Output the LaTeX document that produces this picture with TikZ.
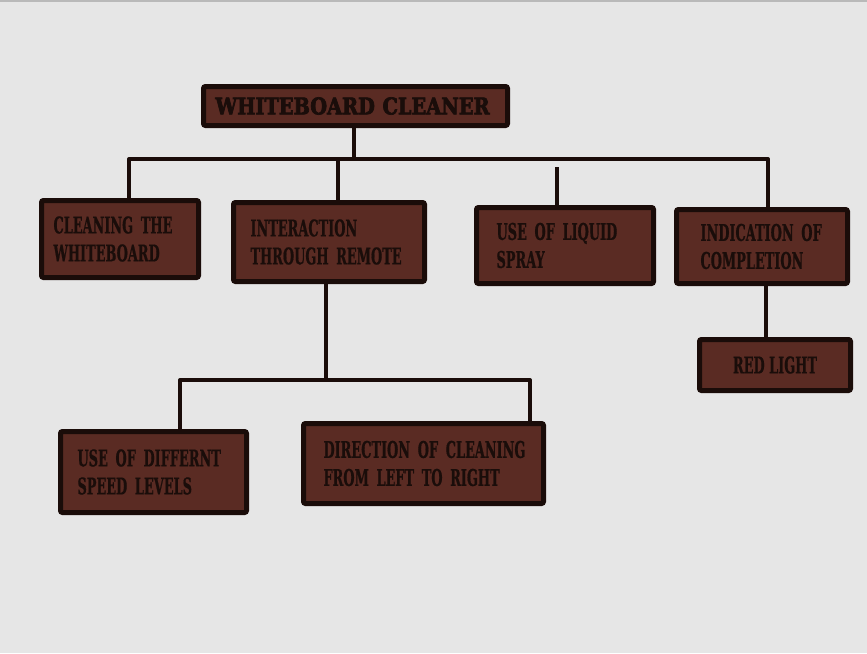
\documentclass[tikz,border=0pt]{standalone}
\usepackage{fontspec}
\newfontfamily\boxfont{DejaVu Serif Bold}[FakeStretch=0.56,FakeBold=0.6]
\newfontfamily\titlefont{DejaVu Serif Bold}[FakeStretch=0.84,FakeBold=3]
\definecolor{bg}{HTML}{E6E6E6}
\definecolor{boxfill}{HTML}{5A2B23}
\definecolor{edge}{HTML}{1A0C09}
\definecolor{ink}{HTML}{1A0D0A}
\tikzset{
  box/.style={draw=edge, line width=5pt, fill=boxfill, rounded corners=2pt,
    anchor=north west, align=left, text=ink, inner ysep=0pt,
    font=\boxfont\fontsize{23}{28}\selectfont},
  link/.style={draw=edge, line width=4pt, line join=round}
}
\begin{document}
\begin{tikzpicture}[x=1pt,y=-1pt]
\useasboundingbox (0,0) rectangle (867,653);
\fill[bg] (0,0) rectangle (867,653);
\fill[gray!55] (0,0) rectangle (867,2);

\node[box, minimum width=304pt, minimum height=39pt, text width=280pt, inner xsep=12pt,
      font=\titlefont\fontsize{23}{26}\selectfont] (title) at (201,84) {\mbox{WHITEBOARD CLEANER}};
\node[box, minimum width=157pt, minimum height=77pt, text width=133pt, inner xsep=12pt] (b1) at (39,198)
  {\mbox{CLEANING THE}\\\mbox{WHITEBOARD}};
\node[box, minimum width=191pt, minimum height=79pt, text width=157pt, inner xsep=17pt] (b2) at (231,200)
  {\mbox{INTERACTION}\\\mbox{THROUGH REMOTE}};
\node[box, minimum width=177pt, minimum height=76pt, text width=137pt, inner xsep=20pt] (b3) at (474,205)
  {\mbox{USE OF LIQUID}\\\mbox{SPRAY}};
\node[box, minimum width=171pt, minimum height=74pt, text width=123pt, inner xsep=24pt] (b4) at (674,207)
  {\mbox{INDICATION OF}\\\mbox{COMPLETION}};
\node[box, minimum width=151pt, minimum height=51pt, align=center] (b5) at (697,337)
  {RED LIGHT};
\node[box, minimum width=186pt, minimum height=81pt, text width=152pt, inner xsep=17pt] (b6) at (58,429)
  {\mbox{USE OF DIFFERNT}\\\mbox{SPEED LEVELS}};
\node[box, minimum width=240pt, minimum height=80pt, text width=200pt, inner xsep=20pt] (b7) at (301,421)
  {\mbox{DIRECTION OF CLEANING}\\\mbox{FROM LEFT TO RIGHT}};

\coordinate (h1) at (129,159);
\coordinate (h2) at (338,159);
\coordinate (h4) at (768,159);
\coordinate (s3) at (557,167);
\coordinate (c45) at (766,300);
\coordinate (j2) at (326,380);
\coordinate (l6) at (180,380);
\coordinate (l7) at (530,380);

\draw[link] (title.south -| 354,0) -- (354,159);
\draw[link] (h1 |- b1.north) -- (h1) -- (h4) -- (h4 |- b4.north);
\draw[link] (h2) -- (h2 |- b2.north);
\draw[link] (s3) -- (s3 |- b3.north);
\draw[link] (c45 |- b4.south) -- (c45 |- b5.north);
\draw[link] (j2 |- b2.south) -- (j2);
\draw[link] (l6 |- b6.north) -- (l6) -- (l7) -- (l7 |- b7.north);
\end{tikzpicture}
\end{document}
